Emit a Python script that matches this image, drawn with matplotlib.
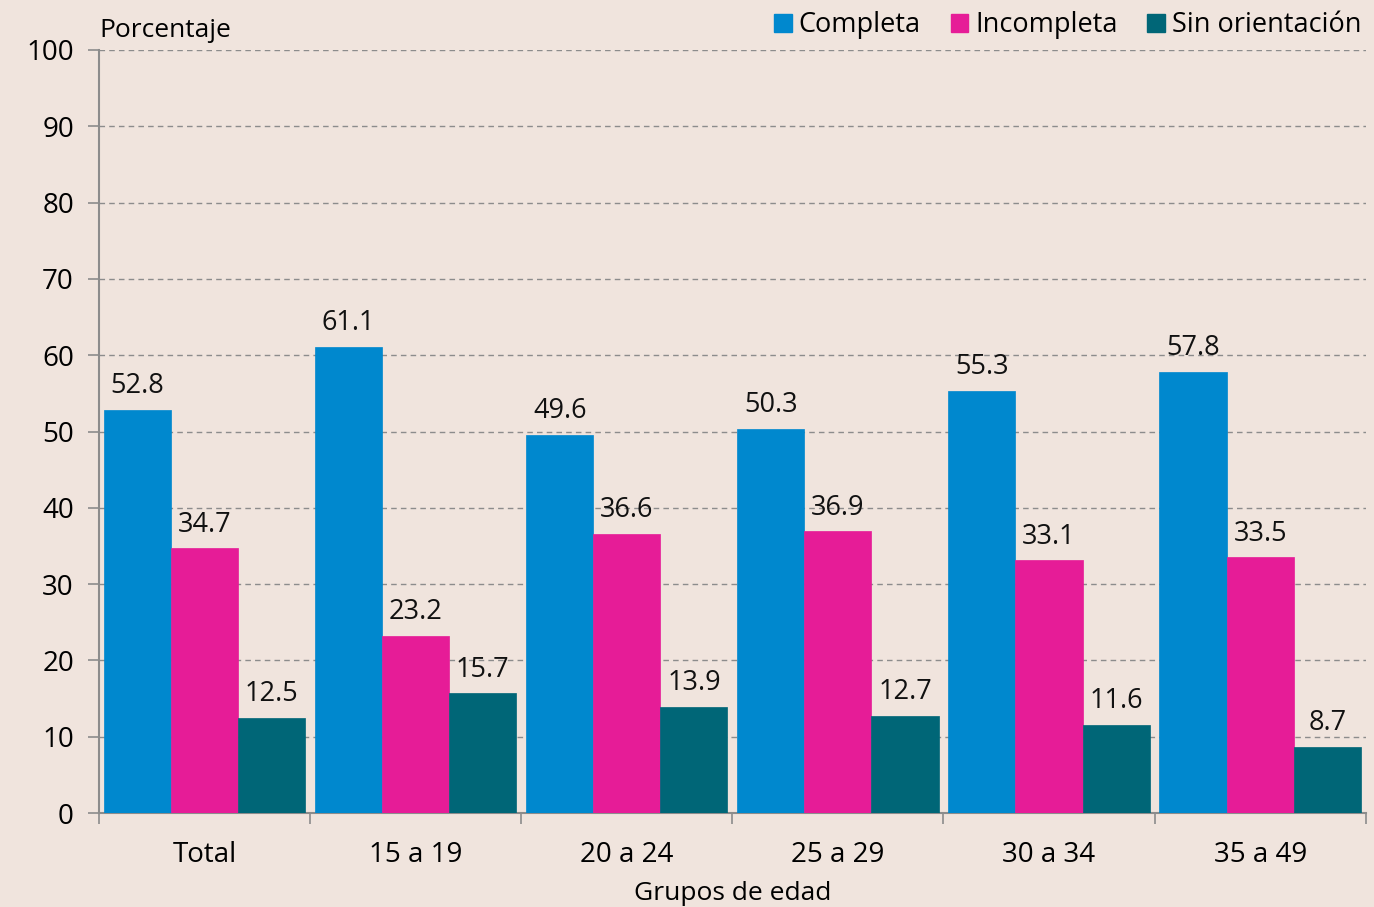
import matplotlib.pyplot as plt
import numpy as np
from matplotlib.patches import Patch

# Datos por grupo de edad
grupos = ['Total', '15 a 19', '20 a 24', '25 a 29', '30 a 34', '35 a 49']
completa = [52.8, 61.1, 49.6, 50.3, 55.3, 57.8]
incompleta = [34.7, 23.2, 36.6, 36.9, 33.1, 33.5]
sin_orientacion = [12.5, 15.7, 13.9, 12.7, 11.6, 8.7]

series = ['Completa', 'Incompleta', 'Sin orientación']
colores = ['#0088CE', '#E61C97', '#006677']
fondo = '#F0E4DD'
gris = '#8C8C8C'

plt.rcParams['font.family'] = ['Open Sans', 'DejaVu Sans']

fig = plt.figure(figsize=(13.74, 9.07), dpi=100, facecolor=fondo)
ax = fig.add_axes([0.072, 0.1036, 0.922, 0.8413])
ax.set_facecolor(fondo)

x = np.arange(len(grupos))
ancho = 0.318
for i, (valores, color) in enumerate(zip([completa, incompleta, sin_orientacion], colores)):
    barras = ax.bar(x + (i - 1) * ancho, valores, ancho, color=color,
                    edgecolor=color, linewidth=0.5, zorder=3)
    ax.bar_label(barras, labels=[f'{v:.1f}' for v in valores], padding=7,
                 fontsize=19.5, color='#111111')

ax.set_xlim(-0.5, len(grupos) - 0.5)
ax.set_ylim(0, 100)
ax.set_yticks(np.arange(0, 101, 10))
ax.yaxis.grid(True, linestyle=(0, (4, 3)), color=gris, linewidth=1, zorder=0)

# etiquetas de grupo centradas, marcas entre grupos
ax.set_xticks(x)
ax.set_xticklabels(grupos)
ax.set_xticks(np.arange(-0.5, len(grupos)), minor=True)
ax.tick_params(axis='x', which='major', length=0, pad=20, labelsize=20)
ax.tick_params(axis='x', which='minor', length=8, width=1.2, color=gris, direction='out')
ax.tick_params(axis='y', length=8, width=1.2, color=gris, labelsize=20, pad=10)

for lado in ['top', 'right']:
    ax.spines[lado].set_visible(False)
for lado in ['left', 'bottom']:
    ax.spines[lado].set_color(gris)
    ax.spines[lado].set_linewidth(1.5)

ax.text(0.0, 1.009, 'Porcentaje', transform=ax.transAxes, fontsize=19,
        ha='left', va='bottom')
ax.set_xlabel('Grupos de edad', fontsize=19, labelpad=9)

handles = [Patch(facecolor=c, edgecolor=c) for c in colores]
ax.legend(handles, series, ncol=3, loc='lower right', bbox_to_anchor=(1.005, 1.0),
          frameon=False, fontsize=19.5, handlelength=0.65, handleheight=0.65,
          handletextpad=0.25, columnspacing=1.1, borderaxespad=0)

plt.savefig('out.png', dpi=100, facecolor=fondo)
